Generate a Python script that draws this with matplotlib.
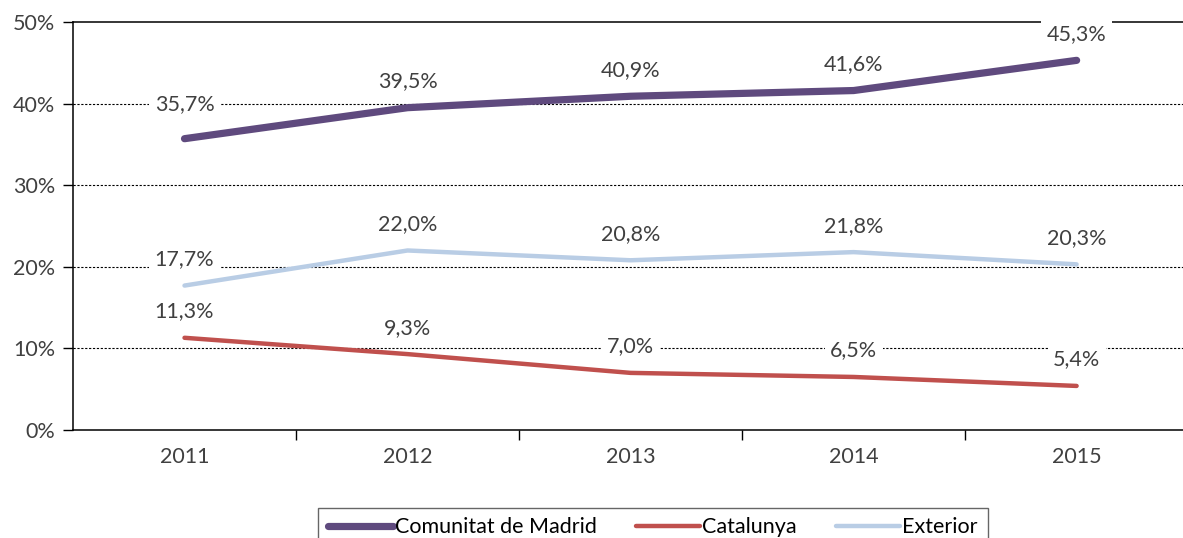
import matplotlib
matplotlib.use("Agg")
import matplotlib.pyplot as plt
from matplotlib.ticker import FixedLocator, NullFormatter

plt.rcParams["font.family"] = ["Lato", "DejaVu Sans"]

years = ["2011", "2012", "2013", "2014", "2015"]
madrid = [35.7, 39.5, 40.9, 41.6, 45.3]
catalunya = [11.3, 9.3, 7.0, 6.5, 5.4]
exterior = [17.7, 22.0, 20.8, 21.8, 20.3]

series = [
    ("Comunitat de Madrid", madrid, "#5F4A7E", 5.2),
    ("Catalunya", catalunya, "#C0504D", 3.2),
    ("Exterior", exterior, "#B9CDE5", 3.2),
]

text_color = "#404040"
fs = 15.5

fig = plt.figure(figsize=(11.83, 5.38), dpi=100)
ax = fig.add_axes([73 / 1183, 1 - 430 / 538, 1 - 73 / 1183, (430 - 22) / 538])

x = list(range(len(years)))
for name, vals, color, lw in series:
    ax.plot(x, vals, color=color, lw=lw, solid_capstyle="round", label=name, zorder=3)
    for xi, v in zip(x, vals):
        lbl = f"{v:.1f}%".replace(".", ",")
        # first Madrid label sits a bit higher in the original
        off = 25 if (vals is madrid and xi == 0) else 19
        ax.annotate(lbl, (xi, v), xytext=(0, off), textcoords="offset points",
                    ha="center", va="center", fontsize=fs, color=text_color,
                    bbox=dict(boxstyle="square,pad=0.25", fc="white", ec="none"),
                    zorder=4)

# gridlines
for g in [10, 20, 30, 40]:
    ax.axhline(g, color="black", lw=0.8, ls=(0, (2, 1.5)), zorder=1)

ax.set_ylim(0, 50)
ax.set_xlim(-0.5, 4.477)
ax.set_yticks([0, 10, 20, 30, 40, 50])
ax.set_yticklabels(["0%", "10%", "20%", "30%", "40%", "50%"])
ax.set_xticks(x)
ax.set_xticklabels(years)
ax.tick_params(axis="x", which="major", length=0, pad=12, labelsize=fs, labelcolor=text_color)
ax.xaxis.set_minor_locator(FixedLocator([0.5, 1.5, 2.5, 3.5]))
ax.xaxis.set_minor_formatter(NullFormatter())
ax.tick_params(axis="x", which="minor", length=7, width=1, direction="out")
ax.tick_params(axis="y", length=7, width=1, direction="out", pad=6, labelsize=fs, labelcolor=text_color)

ax.spines["right"].set_visible(False)
for s in ["left", "bottom", "top"]:
    ax.spines[s].set_linewidth(1.1)
    ax.spines[s].set_color("black")

leg = fig.legend(loc="upper center", bbox_to_anchor=(653 / 1183, 1 - 497 / 538),
                 ncol=3, fontsize=fs, frameon=True, fancybox=False,
                 handlelength=3.0, handletextpad=0.1, columnspacing=1.8,
                 borderpad=0.45, labelcolor="black")
leg.get_frame().set_edgecolor("#404040")
leg.get_frame().set_linewidth(1.0)

fig.savefig("out.png", dpi=100)
